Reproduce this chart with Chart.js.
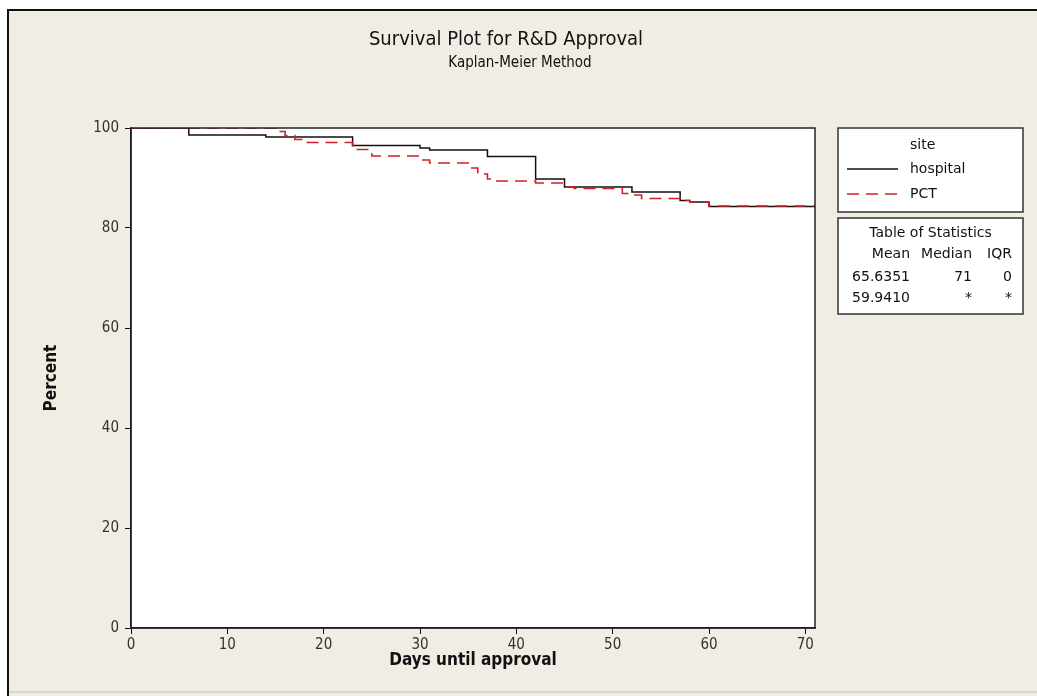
<!DOCTYPE html>
<html>
<head>
<meta charset="utf-8">
<script src="https://cdn.jsdelivr.net/npm/chart.js@4/dist/chart.umd.min.js"></script>
<style>
  html, body { margin: 0; padding: 0; background: #fff; }
  canvas { display: block; }
</style>
</head>
<body>
<canvas id="chart" width="1037" height="696"></canvas>
<script>
// Kaplan-Meier step curves
const hospitalDays = [0, 6, 14, 23, 30, 31, 37, 42, 45, 52, 57, 58, 60, 71]
const hospitalPct = [100, 98.6, 98.2, 96.5, 96.0, 95.6, 94.3, 89.8, 88.2, 87.2, 85.5, 85.2, 84.3, 84.3]
const pctDays = [0, 15, 16, 17, 18, 23, 25, 30, 31, 35, 36, 37, 38, 42, 45, 46, 51, 52, 53, 57, 58, 60, 71]
const pctPct = [100, 99.3, 98.5, 97.7, 97.1, 95.7, 94.4, 93.6, 93.0, 92.0, 90.8, 89.8, 89.4, 89.0, 88.2, 87.9, 86.9, 86.6, 85.9, 85.5, 85.2, 84.4, 84.0]

const xTicks = [0, 10, 20, 30, 40, 50, 60, 70]
const yTicks = [0, 20, 40, 60, 80, 100]

const legendTitle = 'site'
const seriesNames = ['hospital', 'PCT']

const statsTitle = 'Table of Statistics'
const statsHeader = ['Mean', 'Median', 'IQR']
const statsRows = [
  ['65.6351', '71', '0'],
  ['59.9410', '*', '*']
]

const FONT = '"DejaVu Sans Condensed", "DejaVu Sans", sans-serif'
const BOXFONT = '"DejaVu Sans", sans-serif'
const BEIGE = '#f1ece4'
const RED = '#cf2127'

Chart.defaults.font.family = FONT

const toPoints = (xs, ys) => xs.map((x, i) => ({ x: x, y: ys[i] }))

// background, frame, titles, legend box and statistics table
const decorations = {
  id: 'decorations',
  beforeDraw(chart) {
    const ctx = chart.ctx
    const a = chart.chartArea
    ctx.save()
    ctx.fillStyle = '#fff'
    ctx.fillRect(0, 0, chart.width, chart.height)
    ctx.fillStyle = BEIGE
    ctx.fillRect(8, 10, chart.width - 8, chart.height - 10)
    ctx.strokeStyle = '#111'
    ctx.lineWidth = 2
    ctx.beginPath()
    ctx.moveTo(8, chart.height)
    ctx.lineTo(8, 10)
    ctx.lineTo(chart.width, 10)
    ctx.stroke()
    ctx.strokeStyle = '#d8d4ce'
    ctx.lineWidth = 2
    ctx.beginPath()
    ctx.moveTo(9, chart.height - 4)
    ctx.lineTo(chart.width, chart.height - 4)
    ctx.stroke()
    ctx.fillStyle = '#fff'
    ctx.fillRect(a.left, a.top, a.right - a.left, a.bottom - a.top)
    ctx.restore()
  },
  afterDraw(chart) {
    const ctx = chart.ctx
    const a = chart.chartArea
    ctx.save()

    // plot frame
    ctx.strokeStyle = '#222'
    ctx.lineWidth = 1.5
    ctx.strokeRect(a.left, a.top, a.right - a.left, a.bottom - a.top)

    // titles
    ctx.fillStyle = '#111'
    ctx.textAlign = 'center'
    ctx.textBaseline = 'middle'
    ctx.font = '20px ' + FONT
    ctx.fillText('Survival Plot for R&D Approval', 506, 40)
    ctx.font = '15px ' + FONT
    ctx.fillText('Kaplan-Meier Method', 520, 63)

    // axis titles
    ctx.font = 'bold 17px ' + FONT
    ctx.fillText('Days until approval', (a.left + a.right) / 2, 661)
    ctx.save()
    ctx.translate(52, (a.top + a.bottom) / 2)
    ctx.rotate(-Math.PI / 2)
    ctx.fillText('Percent', 0, 0)
    ctx.restore()

    // legend box
    const bx = 838, bw = 185
    ctx.fillStyle = '#fff'
    ctx.fillRect(bx, 128, bw, 84)
    ctx.strokeStyle = '#333'
    ctx.lineWidth = 1.5
    ctx.strokeRect(bx, 128, bw, 84)
    ctx.fillStyle = '#111'
    ctx.textAlign = 'left'
    ctx.font = '14px ' + BOXFONT
    ctx.fillText(legendTitle, 910, 145)
    const rows = [169, 194]
    chart.data.datasets.forEach((ds, i) => {
      const y = rows[i]
      ctx.strokeStyle = ds.borderColor
      ctx.lineWidth = ds.borderWidth
      ctx.setLineDash(ds.borderDash || [])
      ctx.beginPath()
      ctx.moveTo(847, y)
      ctx.lineTo(898, y)
      ctx.stroke()
      ctx.setLineDash([])
      ctx.fillStyle = '#111'
      ctx.fillText(ds.label, 910, y)
    })

    // statistics table
    ctx.fillStyle = '#fff'
    ctx.fillRect(bx, 218, bw, 96)
    ctx.strokeStyle = '#333'
    ctx.lineWidth = 1.5
    ctx.strokeRect(bx, 218, bw, 96)
    ctx.fillStyle = '#111'
    ctx.font = '14px ' + BOXFONT
    ctx.textAlign = 'center'
    ctx.fillText(statsTitle, bx + bw / 2, 233)
    ctx.textAlign = 'right'
    const colRight = [910, 972, 1012]
    statsHeader.forEach((t, i) => ctx.fillText(t, colRight[i], 254))
    statsRows.forEach((row, r) => {
      row.forEach((t, i) => ctx.fillText(t, colRight[i], 277 + r * 21))
    })

    ctx.restore()
  }
}

new Chart(document.getElementById('chart'), {
  type: 'line',
  data: {
    datasets: [
      {
        label: seriesNames[0],
        data: toPoints(hospitalDays, hospitalPct),
        borderColor: '#111',
        borderWidth: 1.5,
        stepped: true,
        pointRadius: 0,
        order: 1
      },
      {
        label: seriesNames[1],
        data: toPoints(pctDays, pctPct),
        borderColor: RED,
        borderWidth: 1.6,
        borderDash: [12, 7],
        stepped: true,
        pointRadius: 0,
        order: 0
      }
    ]
  },
  options: {
    responsive: false,
    animation: false,
    devicePixelRatio: 1,
    layout: { padding: { left: 0, top: 128, right: 222, bottom: 38 } },
    plugins: {
      legend: { display: false },
      tooltip: { enabled: false }
    },
    scales: {
      x: {
        type: 'linear',
        min: 0,
        max: 71,
        afterBuildTicks: scale => { scale.ticks = xTicks.map(v => ({ value: v })) },
        afterFit: scale => { scale.height = 30 },
        grid: { drawOnChartArea: false, drawTicks: true, tickLength: 6, color: '#111' },
        border: { color: '#111', width: 1.5 },
        ticks: { color: '#333', font: { size: 15 }, padding: 2, maxRotation: 0 }
      },
      y: {
        min: 0,
        max: 100,
        afterBuildTicks: scale => { scale.ticks = yTicks.map(v => ({ value: v })) },
        afterFit: scale => { scale.width = 131 },
        grid: { drawOnChartArea: false, drawTicks: true, tickLength: 6, color: '#111' },
        border: { color: '#111', width: 1.5 },
        ticks: { color: '#333', font: { size: 15 }, padding: 6 }
      }
    }
  },
  plugins: [decorations]
})
</script>
</body>
</html>
